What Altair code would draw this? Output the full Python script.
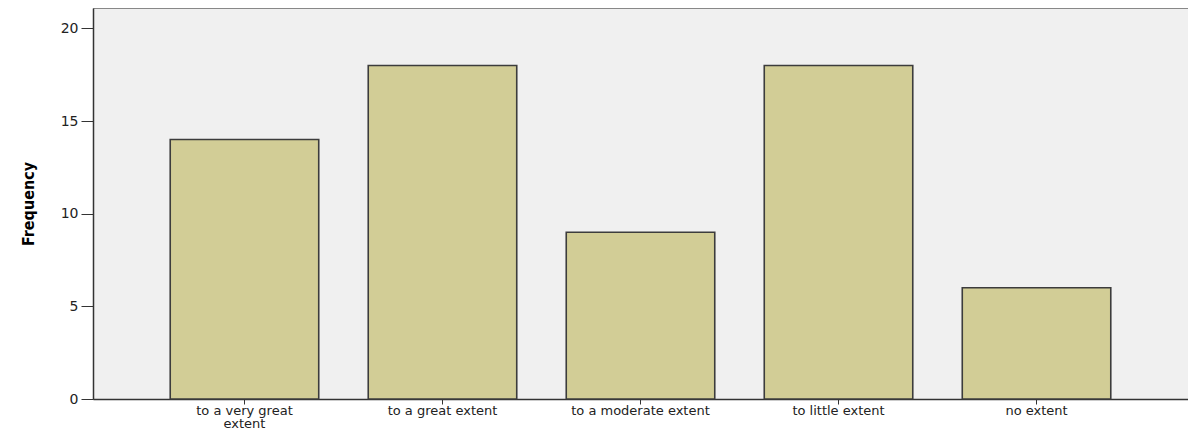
import altair as alt
import pandas as pd

categories = ["to a very great extent", "to a great extent", "to a moderate extent",
              "to little extent", "no extent"]
frequency = [14, 18, 9, 18, 6]

df = pd.DataFrame({"category": categories, "frequency": frequency})

label_expr = ("datum.label == 'to a very great extent' ? ['to a very great', 'extent'] : datum.label")

bars = alt.Chart(df).mark_bar(
    color="#D2CD96", stroke="#3c3c3c", strokeWidth=1.6
).encode(
    x=alt.X("category:N", sort=categories,
            scale=alt.Scale(paddingInner=0.25, paddingOuter=0.39),
            axis=alt.Axis(title=None, labelAngle=0, labelExpr=label_expr,
                          labelFont="DejaVu Sans", labelFontSize=13, labelColor="#222",
                          labelLineHeight=13, labelPadding=0, tickSize=5,
                          tickColor="#333", domainColor="#333", domainWidth=1.5,
                          labelBaseline="top")),
    y=alt.Y("frequency:Q", scale=alt.Scale(domain=[0, 21.1], nice=False),
            axis=alt.Axis(title="Frequency", values=[0, 5, 10, 15, 20], grid=False,
                          labelFont="DejaVu Sans", labelFontSize=14, labelColor="#222",
                          tickSize=12, tickColor="#333", domainColor="#333", domainWidth=1.5,
                          labelPadding=3,
                          titleFont="DejaVu Sans Condensed, Liberation Sans Narrow, Roboto Condensed, Liberation Sans",
                          titleFontSize=16,
                          titleFontWeight="bold", titleColor="#000", titlePadding=24)),
)

chart = bars.properties(
    width=1095, height=391,
    autosize=alt.AutoSizeParams(type="none"),
    padding={"left": 85, "top": 0, "right": 0, "bottom": 31},
    background="white",
).configure_view(fill="#F0F0F0", stroke="#888888", strokeWidth=1)

chart.save("out.html", embed_options={"renderer": "svg", "actions": False})
